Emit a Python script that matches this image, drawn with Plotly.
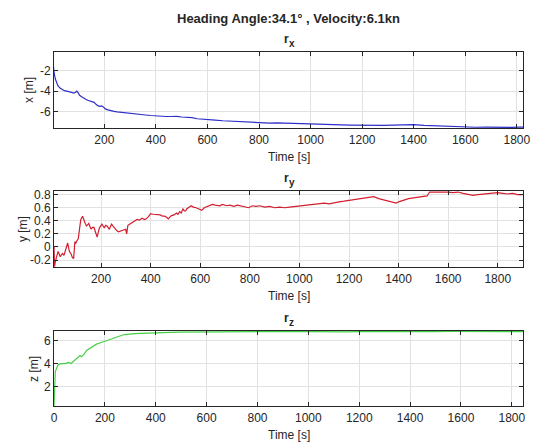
import plotly.graph_objects as go

# ---- data: sensor position components over time ----
rx_t = [1, 3, 6, 10, 15, 20, 28, 36, 45, 55, 65, 75, 82, 88, 93, 98, 104, 112, 120, 128,
        136, 144, 152, 160, 168, 176, 184, 190, 196, 204, 214, 225, 238, 250, 265, 280,
        300, 320, 340, 360, 380, 400, 420, 440, 460, 480, 500, 520, 540, 560, 580, 600,
        630, 660, 690, 720, 750, 780, 810, 840, 870, 900, 930, 960, 1000, 1040, 1080,
        1120, 1160, 1200, 1240, 1280, 1320, 1360, 1400, 1440, 1480, 1520, 1560, 1600,
        1640, 1680, 1720, 1750, 1780, 1810, 1825]
rx_v = [-1.15, -1.7, -2.3, -2.8, -3.2, -3.45, -3.7, -3.85, -3.95, -4.0, -4.05, -4.1,
        -4.2, -4.1, -4.0, -4.15, -4.4, -4.55, -4.7, -4.8, -4.9, -4.95, -5.05, -5.1,
        -5.3, -5.45, -5.5, -5.45, -5.55, -5.75, -5.85, -5.95, -6.0, -6.05, -6.1, -6.15,
        -6.2, -6.25, -6.3, -6.35, -6.4, -6.45, -6.47, -6.5, -6.5, -6.48, -6.55, -6.58,
        -6.62, -6.72, -6.78, -6.82, -6.86, -6.92, -6.97, -7.02, -7.05, -7.08, -7.12,
        -7.15, -7.13, -7.16, -7.2, -7.22, -7.25, -7.28, -7.3, -7.32, -7.35, -7.38,
        -7.4, -7.38, -7.36, -7.35, -7.3, -7.38, -7.42, -7.48, -7.52, -7.55, -7.56,
        -7.55, -7.57, -7.62, -7.57, -7.55, -7.54]

ry_t = [10, 12, 15, 20, 26, 30, 35, 40, 44, 50, 55, 60, 65, 72, 78, 84, 89, 94, 98, 102,
        108, 113, 118, 125, 131, 136, 141, 150, 155, 160, 165, 171, 176, 180, 184, 188,
        193, 203, 208, 213, 218, 224, 233, 242, 248, 253, 263, 270, 279, 290, 299, 303,
        308, 316, 325, 335, 345, 355, 365, 375, 382, 390, 400, 410, 418, 428, 438, 448,
        457, 465, 471, 478, 484, 494, 504, 510, 517, 523, 530, 536, 541, 545, 550, 556,
        563, 572, 583, 596, 606, 616, 629, 640, 649, 660, 669, 680, 688, 700, 708, 720,
        735, 750, 765, 780, 795, 810, 825, 840, 860, 880, 900, 920, 940, 960, 980, 1000,
        1020, 1040, 1060, 1080, 1100, 1120, 1140, 1160, 1180, 1200, 1220, 1240, 1260,
        1280, 1300, 1320, 1340, 1360, 1380, 1390, 1400, 1420, 1440, 1460, 1480, 1500,
        1515, 1525, 1540, 1560, 1580, 1600, 1620, 1640, 1660, 1680, 1700, 1720, 1740,
        1760, 1780, 1800, 1820, 1840, 1860, 1880, 1900]
ry_v = [0.0, -0.3, -0.23, -0.15, -0.07, -0.1, -0.15, -0.12, -0.1, -0.13, -0.06, -0.02,
        0.06, -0.07, -0.1, -0.16, -0.18, 0.08, 0.06, 0.09, 0.13, 0.28, 0.42, 0.47, 0.39,
        0.36, 0.32, 0.36, 0.31, 0.27, 0.30, 0.30, 0.24, 0.18, 0.15, 0.22, 0.29, 0.35,
        0.31, 0.29, 0.33, 0.32, 0.27, 0.35, 0.32, 0.29, 0.25, 0.23, 0.24, 0.26, 0.27,
        0.20, 0.33, 0.35, 0.37, 0.40, 0.42, 0.41, 0.44, 0.42, 0.43, 0.46, 0.51, 0.50,
        0.50, 0.49, 0.49, 0.47, 0.47, 0.45, 0.43, 0.46, 0.48, 0.49, 0.52, 0.50, 0.54,
        0.52, 0.58, 0.55, 0.55, 0.58, 0.59, 0.61, 0.63, 0.61, 0.60, 0.58, 0.56, 0.60,
        0.62, 0.63, 0.65, 0.64, 0.64, 0.63, 0.65, 0.64, 0.63, 0.64, 0.62, 0.64, 0.63,
        0.62, 0.60, 0.63, 0.62, 0.63, 0.61, 0.62, 0.60, 0.61, 0.60, 0.61, 0.62, 0.62,
        0.64, 0.65, 0.65, 0.67, 0.67, 0.66, 0.68, 0.69, 0.70, 0.71, 0.72, 0.73, 0.74,
        0.75, 0.77, 0.74, 0.72, 0.71, 0.68, 0.67, 0.69, 0.72, 0.74, 0.75, 0.76, 0.77,
        0.78, 0.84, 0.84, 0.85, 0.85, 0.84, 0.83, 0.84, 0.82, 0.80, 0.79, 0.80, 0.81,
        0.81, 0.82, 0.83, 0.82, 0.81, 0.82, 0.80, 0.80]

rz_t = [0, 1, 3, 5, 10, 15, 22, 31, 44, 57, 67, 76, 89, 102, 108, 119, 128, 141, 154,
        167, 180, 193, 212, 225, 240, 255, 270, 285, 300, 320, 340, 360, 380, 400, 430,
        460, 500, 540, 580, 620, 660, 700, 750, 800, 850, 900, 950, 1000, 1050, 1100,
        1150, 1200, 1250, 1300, 1350, 1400, 1450, 1500, 1550, 1600, 1650, 1700, 1750,
        1800, 1845]
rz_v = [0.3, 1.2, 2.4, 3.3, 3.6, 3.85, 3.95, 4.0, 4.0, 4.1, 4.0, 4.2, 4.4, 4.7, 4.6,
        4.85, 5.15, 5.35, 5.5, 5.7, 5.8, 5.9, 6.1, 6.2, 6.3, 6.4, 6.5, 6.55, 6.6, 6.62,
        6.65, 6.67, 6.7, 6.7, 6.72, 6.73, 6.75, 6.76, 6.77, 6.78, 6.78, 6.8, 6.8, 6.8,
        6.81, 6.8, 6.82, 6.8, 6.78, 6.77, 6.78, 6.8, 6.79, 6.8, 6.79, 6.81, 6.8, 6.8,
        6.81, 6.8, 6.8, 6.81, 6.8, 6.8, 6.8]

# tick values / labels
time_ticks_a = [200, 400, 600, 800, 1000, 1200, 1400, 1600, 1800]
time_ticks_b = [0, 200, 400, 600, 800, 1000, 1200, 1400, 1600, 1800]
x_ticks = [-6, -4, -2]
x_labels = ["-6", "-4", "-2"]
y_ticks = [-0.2, 0, 0.2, 0.4, 0.6, 0.8]
y_labels = ["-0.2", "0", "0.2", "0.4", "0.6", "0.8"]
z_ticks = [2, 4, 6]
z_labels = ["2", "4", "6"]

main_title = "Heading Angle:34.1° , Velocity:6.1kn"
panel_subs = ["x", "y", "z"]
panel_ylabels = ["x [m]", "y [m]", "z [m]"]

FONT = "Liberation Sans, Arial, Helvetica, sans-serif"
TXT = "#262626"
W, H = 544, 444

fig = go.Figure()
fig.add_trace(go.Scatter(x=rx_t, y=rx_v, mode="lines", xaxis="x", yaxis="y",
                         line=dict(color="#2e2ec8", width=1.2)))
fig.add_trace(go.Scatter(x=ry_t, y=ry_v, mode="lines", xaxis="x2", yaxis="y2",
                         line=dict(color="#d21e2e", width=1.2)))
fig.add_trace(go.Scatter(x=rz_t, y=rz_v, mode="lines", xaxis="x3", yaxis="y3",
                         line=dict(color="#44d044", width=1.2)))

xdom = [52 / W, 530 / W]
boxes = [(49, 126), (189, 266), (330, 406)]


def ydom(top, bot):
    return [1 - bot / H, 1 - top / H]


def axis_style(**kw):
    d = dict(showline=True, linecolor=TXT, linewidth=1, mirror="ticks",
             ticks="inside", ticklen=4, tickcolor=TXT, tickwidth=1,
             showgrid=True, gridcolor="#e2e2e2", gridwidth=1, zeroline=False,
             tickfont=dict(family=FONT, size=12, color=TXT), fixedrange=True)
    d.update(kw)
    return d


fig.update_layout(
    width=W, height=H, margin=dict(l=0, r=0, t=0, b=0),
    paper_bgcolor="white", plot_bgcolor="white", showlegend=False,
    xaxis=axis_style(domain=xdom, anchor="y", range=[5, 1825],
                     tickvals=time_ticks_a),
    yaxis=axis_style(domain=ydom(*boxes[0]), anchor="x", range=[-7.65, -0.1],
                     tickvals=x_ticks, ticktext=x_labels),
    xaxis2=axis_style(domain=xdom, anchor="y2", range=[10, 1903],
                      tickvals=time_ticks_a),
    yaxis2=axis_style(domain=ydom(*boxes[1]), anchor="x2", range=[-0.31, 0.86],
                      tickvals=y_ticks, ticktext=y_labels),
    xaxis3=axis_style(domain=xdom, anchor="y3", range=[0, 1845],
                      tickvals=time_ticks_b),
    yaxis3=axis_style(domain=ydom(*boxes[2]), anchor="x3", range=[0.26, 6.87],
                      tickvals=z_ticks, ticktext=z_labels),
)

cxp = (xdom[0] + xdom[1]) / 2 * W


def ann(text, xpx, ypx, size=12, bold=False, angle=0, xanchor="center", pad=1):
    fig.add_annotation(text=f"<b>{text}</b>" if bold else text,
                       x=xpx / W, y=1 - ypx / H, xref="paper", yref="paper",
                       showarrow=False, textangle=angle, borderpad=pad,
                       font=dict(family=FONT, size=size, color=TXT),
                       xanchor=xanchor, yanchor="middle")


ann(main_title, cxp, 16, size=13, bold=True)

# panel titles: bold "r" with a lowered component letter
for (top, bot), sub in zip(boxes, panel_subs):
    ann("r", cxp + 1, top - 13, size=12, bold=True, xanchor="right", pad=0)
    ann(sub, cxp - 1, top - 8, size=10, bold=True, xanchor="left", pad=0)
    ann("Time [s]", cxp, bot + 29, size=12)

ann(panel_ylabels[0], 27, 88, size=12, angle=-90)
ann(panel_ylabels[1], 21, 228, size=12, angle=-90)
ann(panel_ylabels[2], 31, 368, size=12, angle=-90)

fig.write_html("out.html")
